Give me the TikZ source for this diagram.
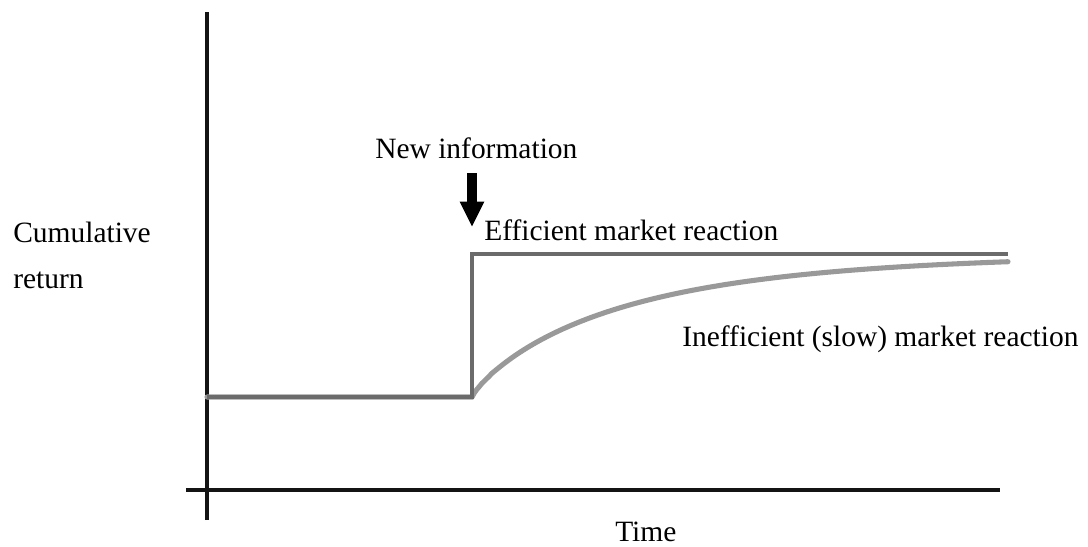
\documentclass[tikz,border=0pt]{standalone}
\usepackage{fontspec}
\setmainfont{Liberation Serif}
\usetikzlibrary{arrows.meta}
\begin{document}
\begin{tikzpicture}[x=0.75pt,y=-0.75pt,
  lbl/.style={anchor=base west,inner sep=0pt,font=\fontsize{22.1}{26}\selectfont},
  axis/.style={line width=2.4pt,color=black!92},
  effline/.style={line width=3pt,color=black!58},
  slowline/.style={line width=3.8pt,color=black!40,line cap=round},
  infoarrow/.style={line width=7.5pt,-{Triangle[length=19pt 0 0,width=17pt 0 0]}}]
\useasboundingbox (0,0) rectangle (1088,546);
% axes
\coordinate (ytop) at (207,12);
\coordinate (ybot) at (207,520);
\coordinate (xl) at (186,490);
\coordinate (xr) at (1000,490);
\draw[axis] (ybot) -- (ytop);
\draw[axis] (xl) -- (xr);
% slow reaction curve
\coordinate (base0) at (207,397);
\coordinate (jump) at (472,397);
\draw[slowline] (base0) -- (jump) -- plot[domain=0.01:536,samples=220,variable=\u]
  ({472+\u},{254+143*exp(-exp(0.85*ln(\u/152)))});
% efficient reaction
\coordinate (top) at (472,254);
\coordinate (eend) at (1008,254);
\draw[effline] (base0) -- (jump) -- (top) -- (eend);
% new information arrow
\coordinate (atop) at (472,173);
\coordinate (atip) at (472,227);
\draw[infoarrow] (atop) -- (atip);
% labels
\node[lbl] (newinfo) at (375,158) {New information};
\node[lbl] (eff) at (484,240) {Efficient market reaction};
\node[lbl] (ineff) at (682,346) {Inefficient (slow) market reaction};
\node[lbl] (cum) at (13,242) {Cumulative};
\node[lbl] (ret) at (13,288) {return};
\node[lbl] (time) at (615,541) {Time};
\end{tikzpicture}
\end{document}
